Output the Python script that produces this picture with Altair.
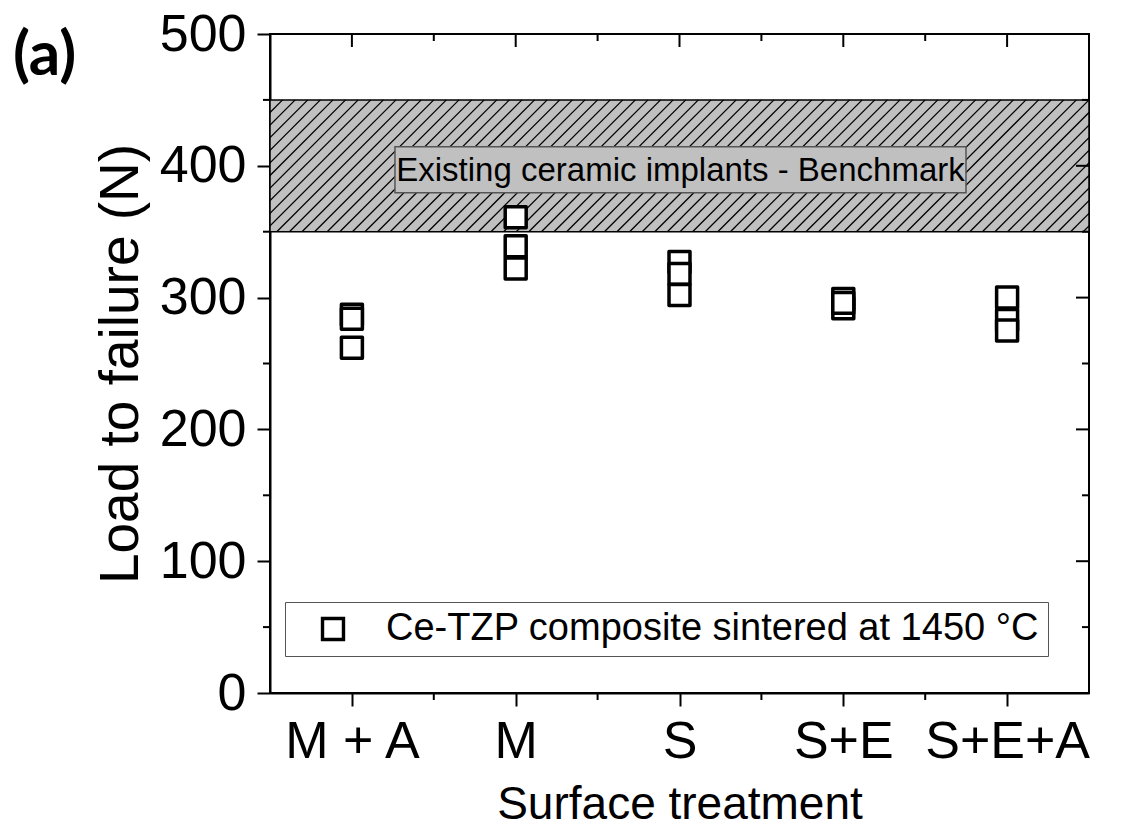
import json
import altair as alt
import pandas as pd
import numpy as np

# ---------------- data ----------------
categories = ["M + A", "M", "S", "S+E", "S+E+A"]
# load to failure (N) per surface treatment, in drawing order
load_ma = [287, 284, 262]
load_m = [361, 339, 322]
load_s = [327, 318, 302]
load_se = [292, 299, 296]
load_sea = [300, 283, 275]
series_name = "Ce-TZP composite sintered at 1450 °C"

benchmark_range = [350, 450]
benchmark_label = "Existing ceramic implants - Benchmark"
benchmark_box_x = [1.263, 4.749]
benchmark_box_y = [379.6, 414.5]

panel_label = "(a)"

y_major = [0, 100, 200, 300, 400, 500]
y_minor = [50, 150, 250, 350, 450]
x_major = [1, 2, 3, 4, 5]
x_minor = [1.5, 2.5, 3.5, 4.5]

# ---------------- layout ----------------
W, H = 819, 659
FONT = "Liberation Sans"

rows = []
for i, vals in enumerate([load_ma, load_m, load_s, load_se, load_sea]):
    for v in vals:
        rows.append({"pos": i + 1, "cat": categories[i], "load": v, "series": series_name})
pts = pd.DataFrame(rows)

x_scale = alt.Scale(domain=[0.5, 5.5], nice=False, zero=False)
y_scale = alt.Scale(domain=[0, 500], nice=False, zero=True)
label_expr = "%s[datum.value - 1]" % json.dumps(categories)

x_axis = alt.Axis(values=x_major, labelExpr=label_expr, title="Surface treatment",
                  labelFlush=False, labelOverlap=False, labelPadding=10, titlePadding=15,
                  titleFontSize=46)
y_axis = alt.Axis(values=y_major, title="Load to failure (N)", labelFlush=False,
                  labelOverlap=False, labelPadding=11, titlePadding=10, titleFontSize=55)


def X(field):
    return alt.X(field, type="quantitative", scale=x_scale, axis=x_axis)


def Y(field):
    return alt.Y(field, type="quantitative", scale=y_scale, axis=y_axis)


# benchmark band
band_df = pd.DataFrame({"x0": [0.5], "x1": [5.5],
                        "y0": [benchmark_range[0]], "y1": [benchmark_range[1]]})
band = alt.Chart(band_df).mark_rect(fill="#c0c0c0").encode(
    x=X("x0"), x2="x1", y=Y("y0"), y2="y1")

# hatch lines (45 degrees) inside band
px_x = 5.0 / W
band_px = (benchmark_range[1] - benchmark_range[0]) * H / 500.0
dx = band_px * px_x
spacing = 12.6 * px_x
starts = np.arange(0.5 - dx, 5.5, spacing)
hatch_df = pd.DataFrame({"xa": starts, "xb": starts + dx,
                         "ya": benchmark_range[0], "yb": benchmark_range[1]})
hatch = alt.Chart(hatch_df).mark_rule(clip=True, color="black", strokeWidth=1.3).encode(
    x=X("xa"), x2="xb", y=Y("ya"), y2="yb")

band_border = alt.Chart(band_df).mark_rect(fillOpacity=0, stroke="black", strokeWidth=1.5).encode(
    x=X("x0"), x2="x1", y=Y("y0"), y2="y1")

box_df = pd.DataFrame({"x0": [benchmark_box_x[0]], "x1": [benchmark_box_x[1]],
                       "y0": [benchmark_box_y[0]], "y1": [benchmark_box_y[1]],
                       "xc": [sum(benchmark_box_x) / 2], "yc": [sum(benchmark_box_y) / 2],
                       "label": [benchmark_label]})
box = alt.Chart(box_df).mark_rect(fill="#c0c0c0", stroke="#555555", strokeWidth=1.5).encode(
    x=X("x0"), x2="x1", y=Y("y0"), y2="y1")
box_text = alt.Chart(box_df).mark_text(font=FONT, fontSize=33, color="black",
                                       align="center", baseline="middle", dy=1).encode(
    x=X("xc"), y=Y("yc"), text="label:N")

# mirrored / minor ticks
def tick_df(vals):
    return pd.DataFrame({"t": vals})

top_major = alt.Chart(tick_df(x_major)).mark_rule(color="black", strokeWidth=2).encode(
    x=X("t"), y=alt.value(0), y2=alt.value(13))
top_minor = alt.Chart(tick_df(x_minor)).mark_rule(color="black", strokeWidth=2).encode(
    x=X("t"), y=alt.value(0), y2=alt.value(7))
bottom_minor = alt.Chart(tick_df(x_minor)).mark_rule(color="black", strokeWidth=2).encode(
    x=X("t"), y=alt.value(H), y2=alt.value(H + 7))
left_minor = alt.Chart(tick_df(y_minor)).mark_rule(color="black", strokeWidth=2).encode(
    y=Y("t"), x=alt.value(-7), x2=alt.value(0))
right_major = alt.Chart(tick_df(y_major[1:-1])).mark_rule(color="black", strokeWidth=2).encode(
    y=Y("t"), x=alt.value(W - 13), x2=alt.value(W))
right_minor = alt.Chart(tick_df(y_minor)).mark_rule(color="black", strokeWidth=2).encode(
    y=Y("t"), x=alt.value(W - 7), x2=alt.value(W))

legend = alt.Legend(orient="none", legendX=15, legendY=568, title=None,
                    strokeColor="#555555", fillColor="white", padding=8,
                    labelFont=FONT, labelFontSize=38, labelColor="black",
                    labelLimit=0, symbolType="square", symbolSize=440,
                    symbolStrokeWidth=3.4, symbolStrokeColor="black",
                    symbolFillColor="white", symbolOffset=21, labelOffset=34,
                    labelExpr="datum.label + ' \u200a'")

points = alt.Chart(pts).mark_point(shape="square", filled=False, fill="white", fillOpacity=1,
                                   strokeWidth=3.5, size=440, opacity=1,
                                   strokeJoin="round").encode(
    x=X("pos"), y=Y("load"),
    color=alt.Color("series:N", scale=alt.Scale(range=["black"]), legend=legend),
    shape=alt.Shape("series:N", scale=alt.Scale(range=["square"]), legend=legend))

label_layer = alt.Chart(pd.DataFrame({"t": [panel_label]})).mark_text(
    font="Lato", fontSize=62, fontWeight="bold", color="black", align="left",
    baseline="alphabetic").encode(x=alt.value(-257), y=alt.value(41), text="t:N")

chart = alt.layer(band, hatch, band_border, box, box_text,
                  top_major, top_minor, bottom_minor, left_minor, right_major, right_minor,
                  points, label_layer).properties(
    width=W, height=H,
    padding={"left": 262, "top": 26, "right": 20, "bottom": 134},
    autosize=alt.AutoSizeParams(type="none"),
).configure_view(stroke="black", strokeWidth=2).configure_axis(
    domainColor="black", domainWidth=2, tickColor="black", tickWidth=2, tickSize=13,
    labelFont=FONT, labelFontSize=52, labelColor="black", titleFont=FONT,
    titleFontWeight="normal", titleColor="black", grid=False)

chart.save("out.html", embed_options={"renderer": "svg", "actions": False})
